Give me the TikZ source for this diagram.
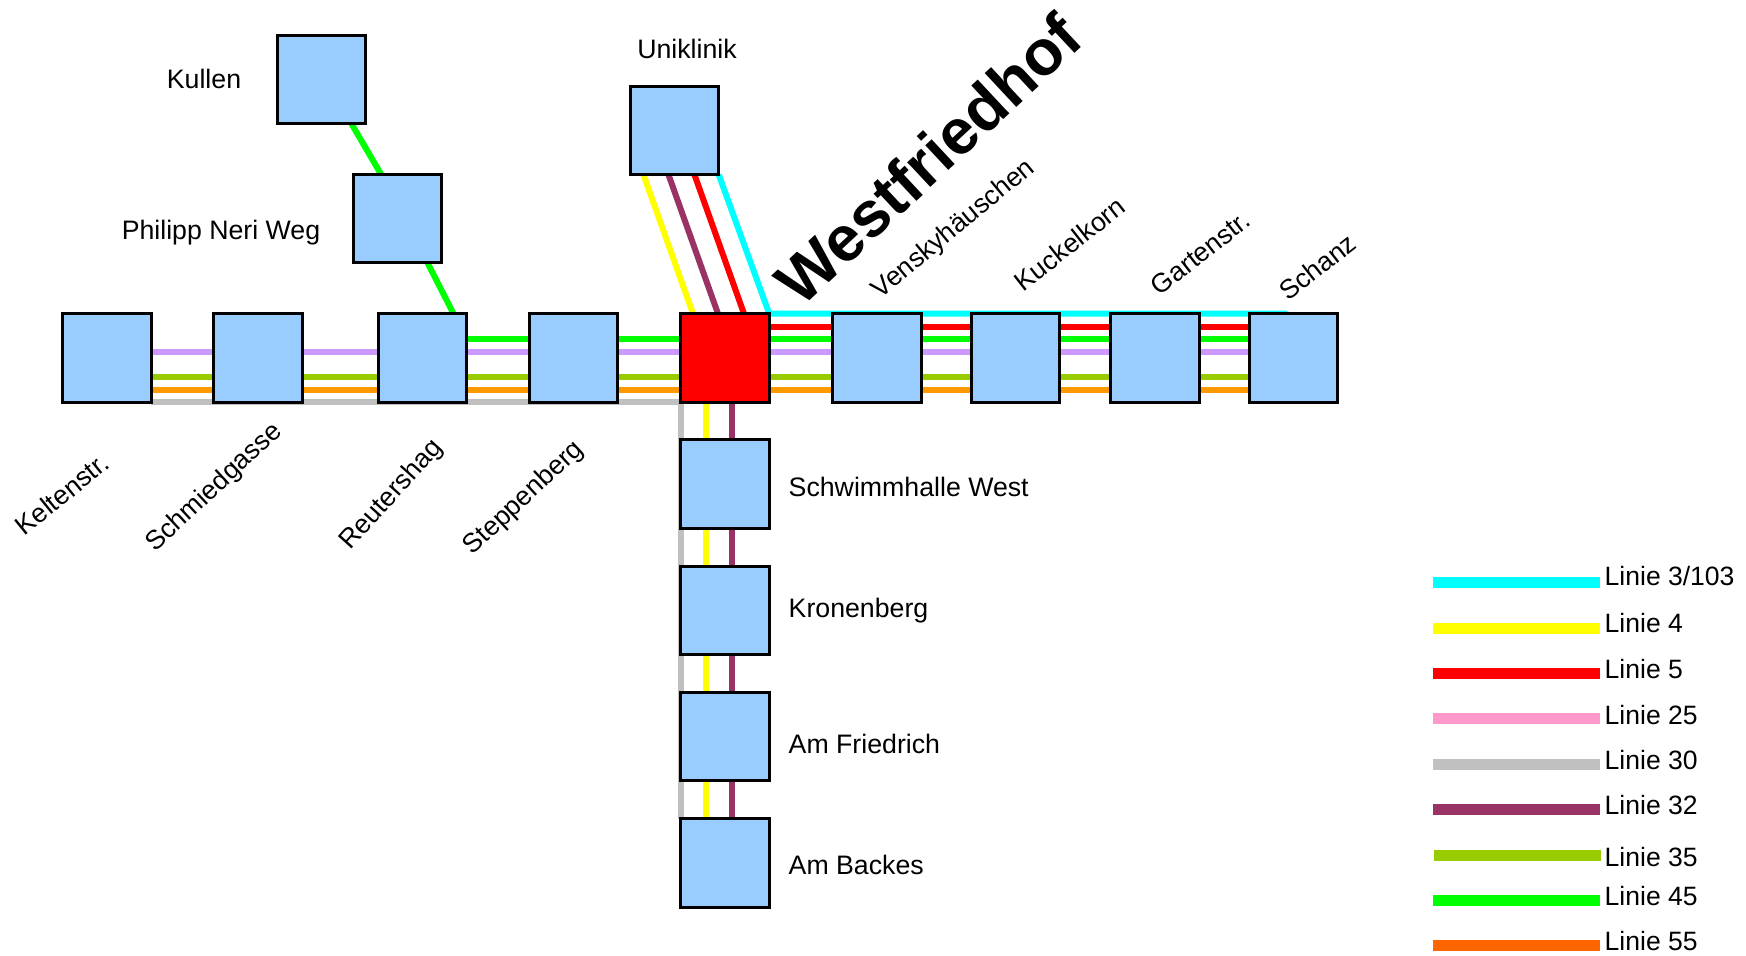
\documentclass[tikz,border=0pt]{standalone}
\usepackage{fontspec}
\setmainfont{Liberation Sans}
\usepackage{tikz}
\usetikzlibrary{backgrounds}

\definecolor{linie3}{HTML}{00FFFF}
\definecolor{linie4}{HTML}{FFFF00}
\definecolor{linie5}{HTML}{FF0000}
\definecolor{linie25}{HTML}{FF99CC}
\definecolor{linie30}{HTML}{C0C0C0}
\definecolor{linie32}{HTML}{993366}
\definecolor{linie35}{HTML}{99CC00}
\definecolor{linie45}{HTML}{00FF00}
\definecolor{linie55}{HTML}{FF6600}
\definecolor{stopblue}{HTML}{99CCFF}
\definecolor{trackpurple}{HTML}{CC99FF}
\definecolor{trackorange}{HTML}{FF9900}

\tikzset{
  stop/.style = {rectangle, draw = black, fill = stopblue, line width = 0.03cm, minimum size = 0.885cm, inner sep = 0pt, outer sep = 0pt},
  track/.style = {line width = 0.06cm},
  swatch/.style = {line width = 0.11cm},
  stoplabel/.style = {font = \fontsize{7.6}{9}\selectfont, inner sep = 0pt},
  legendlabel/.style = {font = \fontsize{7.55}{9}\selectfont, inner sep = 0pt, anchor = base west}
}

\begin{document}
\begin{tikzpicture}

\useasboundingbox (0,0) rectangle (17.46,9.55);

\node (keltenstr) at (1.07,5.97) [stop]{};
\node (schmiedgasse) at (2.58,5.97) [stop]{};
\node (reutershag) at (4.225,5.97) [stop]{};
\node (steppenberg) at (5.735,5.97) [stop]{};
\node (westfriedhof) at (7.25,5.97) [stop, fill = red]{};
\node (venskyhaeuschen) at (8.77,5.97) [stop]{};
\node (kuckelkorn) at (10.155,5.97) [stop]{};
\node (gartenstr) at (11.55,5.97) [stop]{};
\node (schanz) at (12.935,5.97) [stop]{};

\node (kullen) at (3.215,8.755) [stop]{};
\node (philipp) at (3.975,7.365) [stop]{};
\node (uniklinik) at (6.745,8.245) [stop]{};

\node (schwimmhalle) at (7.25,4.71) [stop]{};
\node (kronenberg) at (7.25,3.445) [stop]{};
\node (friedrich) at (7.25,2.185) [stop]{};
\node (backes) at (7.25,0.92) [stop]{};

\begin{scope}[on background layer]
\draw[track, trackpurple] ([yshift = 0.063cm]keltenstr.east)--([yshift = 0.063cm]schanz.west);
\draw[track, linie35] ([yshift = -0.19cm]keltenstr.east)--([yshift = -0.19cm]schanz.west);
\draw[track, trackorange] ([yshift = -0.317cm]keltenstr.east)--([yshift = -0.317cm]schanz.west);
\draw[track, linie45] ([yshift = 0.19cm]reutershag.east)--([yshift = 0.19cm]schanz.west);
\draw[track, linie5] ([yshift = 0.31cm]westfriedhof.east)--([yshift = 0.31cm]schanz.west);
\draw[track, linie30] (keltenstr.south east)--(westfriedhof.south west)--(backes.north west);
\draw[track, linie4] ([xshift = -0.19cm]westfriedhof.south)--([xshift = -0.19cm]backes.north);
\draw[track, linie32] ([xshift = 0.07cm]westfriedhof.south)--([xshift = 0.07cm]backes.north);

\draw[track, linie4] ([xshift = -0.31cm]uniklinik.south)--([xshift = -0.32cm]westfriedhof.north);
\draw[track, linie32] ([xshift = -0.06cm]uniklinik.south)--([xshift = -0.07cm]westfriedhof.north);
\draw[track, linie5] ([xshift = 0.20cm]uniklinik.south)--([xshift = 0.19cm]westfriedhof.north);
\draw[track, linie3] (uniklinik.south east)--(westfriedhof.north east)--([xshift = -0.06cm]schanz.north);

\draw[track, linie45] ([xshift = 0.30cm]kullen.south)--([xshift = -0.165cm]philipp.north);
\draw[track, linie45] ([xshift = 0.30cm]philipp.south)--([xshift = 0.31cm]reutershag.north);
\end{scope}

\node (title) at (9.28,7.96) [rotate = 43, inner sep = 0pt, font = \fontsize{18.2}{22}\selectfont\bfseries]{Westfriedhof};

\node (keltenlabel) at (0.62,4.61) [stoplabel, rotate = 39]{Keltenstr.};
\node (schmiedlabel) at (2.145,4.67) [stoplabel, rotate = 43]{Schmiedgasse};
\node (reuterlabel) at (3.92,4.60) [stoplabel, rotate = 48]{Reutershag};
\node (steppenlabel) at (5.24,4.565) [stoplabel, rotate = 43]{Steppenberg};
\node (venskylabel) at (9.54,7.255) [stoplabel, rotate = 39.5]{Venskyhäuschen};
\node (kuckellabel) at (10.695,7.11) [stoplabel, rotate = 38]{Kuckelkorn};
\node (gartenlabel) at (12.005,7.02) [stoplabel, rotate = 38]{Gartenstr.};
\node (schanzlabel) at (13.175,6.88) [stoplabel, rotate = 38]{Schanz};

\node (unilabel) at (6.87,9.06) [stoplabel]{Uniklinik};
\node (kullenlabel) at (2.04,8.76) [stoplabel]{Kullen};
\node (philipplabel) at (2.21,7.22) [stoplabel]{Philipp Neri Weg};

\node (schwimmlabel) at (7.88,4.68) [stoplabel, anchor = west]{Schwimmhalle West};
\node (kronenlabel) at (7.88,3.44) [stoplabel, anchor = west]{Kronenberg};
\node (friedrichlabel) at (7.88,2.11) [stoplabel, anchor = west]{Am Friedrich};
\node (backeslabel) at (7.88,0.90) [stoplabel, anchor = west]{Am Backes};

\coordinate (swatch3) at (14.33,3.725);
\coordinate (swatch4) at (14.33,3.265);
\coordinate (swatch5) at (14.33,2.815);
\coordinate (swatch25) at (14.33,2.365);
\coordinate (swatch30) at (14.33,1.905);
\coordinate (swatch32) at (14.33,1.455);
\coordinate (swatch35) at (14.34,0.995);
\coordinate (swatch45) at (14.33,0.545);
\coordinate (swatch55) at (14.33,0.095);

\draw[swatch, linie3] (swatch3)--++(1.67,0);
\draw[swatch, linie4] (swatch4)--++(1.67,0);
\draw[swatch, linie5] (swatch5)--++(1.67,0);
\draw[swatch, linie25] (swatch25)--++(1.67,0);
\draw[swatch, linie30] (swatch30)--++(1.67,0);
\draw[swatch, linie32] (swatch32)--++(1.67,0);
\draw[swatch, linie35] (swatch35)--++(1.67,0);
\draw[swatch, linie45] (swatch45)--++(1.67,0);
\draw[swatch, linie55] (swatch55)--++(1.67,0);

\node (legend3) at (16.04,3.69) [legendlabel]{Linie 3/103};
\node (legend4) at (16.04,3.225) [legendlabel]{Linie 4};
\node (legend5) at (16.04,2.765) [legendlabel]{Linie 5};
\node (legend25) at (16.04,2.31) [legendlabel]{Linie 25};
\node (legend30) at (16.04,1.86) [legendlabel]{Linie 30};
\node (legend32) at (16.04,1.41) [legendlabel]{Linie 32};
\node (legend35) at (16.04,0.89) [legendlabel]{Linie 35};
\node (legend45) at (16.04,0.50) [legendlabel]{Linie 45};
\node (legend55) at (16.04,0.05) [legendlabel]{Linie 55};

\end{tikzpicture}
\end{document}
